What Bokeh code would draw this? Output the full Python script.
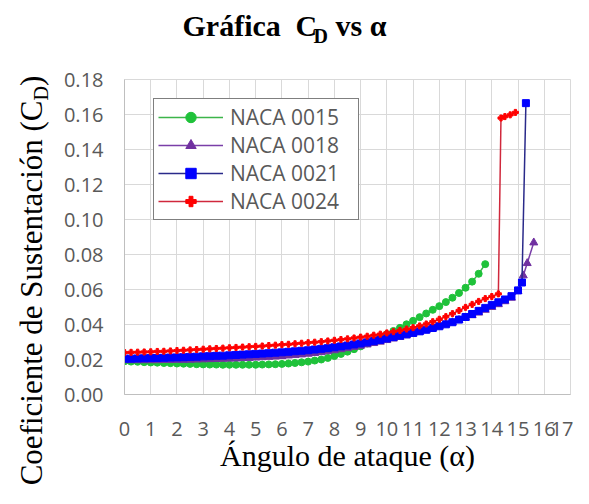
import math
from bokeh.plotting import figure
from bokeh.layouts import row, column
from bokeh.models import Plot, Range1d, FixedTicker, NumeralTickFormatter, Label, Legend, LegendItem
from bokeh.embed import file_html
from bokeh.resources import INLINE

# ---------------- data ----------------
x_ticks = list(range(0, 18))
y_ticks = [0.00, 0.02, 0.04, 0.06, 0.08, 0.10, 0.12, 0.14, 0.16, 0.18]

alpha_0015 = [0, 0.25, 0.5, 0.75, 1, 1.25, 1.5, 1.75, 2, 2.25, 2.5, 2.75, 3, 3.25, 3.5, 3.75,
              4, 4.25, 4.5, 4.75, 5, 5.25, 5.5, 5.75, 6, 6.25, 6.5, 6.75, 7, 7.25, 7.5, 7.75,
              8, 8.25, 8.5, 8.75, 9, 9.25, 9.5, 9.75, 10, 10.25, 10.5, 10.75, 11, 11.25, 11.5, 11.75,
              12, 12.25, 12.5, 12.75, 13, 13.25, 13.5, 13.75]
cd_0015 = [.0190, .0188, .0187, .0185, .0183, .0182, .0180, .0179, .0177, .0176, .0175, .0173,
           .0172, .0171, .0171, .0170, .0170, .0170, .0170, .0170, .0170, .0171, .0172, .0173,
           .0175, .0177, .0180, .0184, .0188, .0194, .0200, .0209, .0220, .0232, .0245, .0259,
           .0275, .0292, .0310, .0327, .0345, .0363, .0381, .0401, .0421, .0442, .0463, .0484,
           .0505, .0528, .0553, .0580, .0610, .0645, .0690, .0745]

alpha_0018 = alpha_0015 + [14.0, 14.25, 14.5, 14.75, 15.0, 15.2, 15.35, 15.6]
cd_0018 = [.0195, .0195, .0195, .0195, .0195, .0195, .0196, .0196, .0197, .0197, .0198, .0199,
           .0200, .0201, .0202, .0203, .0204, .0205, .0207, .0208, .0210, .0212, .0214, .0216,
           .0219, .0222, .0225, .0228, .0232, .0236, .0241, .0246, .0252, .0258, .0264, .0271,
           .0278, .0285, .0293, .0301, .0310, .0319, .0328, .0337, .0347, .0357, .0367, .0378,
           .0389, .0400, .0412, .0425, .0438, .0452, .0467, .0483,
           .0499, .0515, .0532, .0552, .0590, .0680, .0750, .0868]

alpha_0021 = alpha_0015 + [14.0, 14.25, 14.5, 14.75, 15.0, 15.15, 15.3]
cd_0021 = [.0205, .0205, .0206, .0207, .0208, .0209, .0210, .0211, .0212, .0213, .0215, .0216,
           .0218, .0219, .0221, .0222, .0224, .0226, .0228, .0230, .0232, .0234, .0236, .0239,
           .0241, .0244, .0247, .0250, .0253, .0257, .0261, .0265, .0270, .0275, .0280, .0286,
           .0292, .0298, .0305, .0312, .0320, .0328, .0336, .0344, .0352, .0361, .0370, .0380,
           .0390, .0401, .0413, .0428, .0443, .0460, .0478, .0495,
           .0512, .0527, .0543, .0562, .0595, .0640, .1665]

alpha_0024 = alpha_0015 + [14.0, 14.25, 14.35, 14.5, 14.7, 14.9]
cd_0024 = [.0240, .0241, .0242, .0243, .0244, .0246, .0247, .0249, .0251, .0253, .0255, .0257,
           .0259, .0261, .0263, .0265, .0267, .0269, .0271, .0273, .0275, .0277, .0280, .0282,
           .0285, .0287, .0290, .0293, .0296, .0299, .0302, .0306, .0310, .0314, .0318, .0323,
           .0328, .0333, .0339, .0345, .0352, .0359, .0366, .0374, .0382, .0392, .0403, .0416,
           .0430, .0445, .0462, .0480, .0498, .0515, .0532, .0548,
           .0560, .0575, .1580, .1588, .1598, .1612]

series = [
    ("NACA 0015", alpha_0015, cd_0015, "#3cb54a", "#1fc23a", "circle", 7),
    ("NACA 0018", alpha_0018, cd_0018, "#7a3fa8", "#7030a0", "triangle", 8),
    ("NACA 0021", alpha_0021, cd_0021, "#2a2a8a", "#0000ff", "square", 7),
    ("NACA 0024", alpha_0024, cd_0024, "#d0283c", "#ff0000", "plus", 6),
]

serif = "Liberation Serif"
extra = {}
if "frame_align" in Plot.properties():
    extra["frame_align"] = False


def blank(w, h):
    f = figure(width=w, height=h, output_backend="svg", toolbar_location=None, title=None,
               x_range=Range1d(0, w), y_range=Range1d(0, h),
               x_axis_location=None, y_axis_location=None,
               min_border=0, min_border_left=0, min_border_right=0,
               min_border_top=0, min_border_bottom=0,
               background_fill_color="white", border_fill_color="white", **extra)
    f.grid.visible = False
    f.outline_line_color = None
    return f


# ---------------- main figure ----------------
p = figure(width=513, height=428, output_backend="svg", toolbar_location=None, title=None,
           x_range=Range1d(0, 17), y_range=Range1d(0, 0.18),
           min_border_left=62, min_border_right=3, min_border_top=19, min_border_bottom=94,
           background_fill_color="white", border_fill_color="white", **extra)
p.outline_line_color = "#d9d9d9"

p.xaxis.ticker = FixedTicker(ticks=x_ticks)
p.yaxis.ticker = FixedTicker(ticks=y_ticks)
p.yaxis.formatter = NumeralTickFormatter(format="0.00")
for ax in (p.xaxis, p.yaxis):
    ax.major_tick_out = 0
    ax.major_tick_in = 0
    ax.minor_tick_out = 0
    ax.minor_tick_in = 0
    ax.axis_line_color = "#bfbfbf"
    ax.major_label_text_font = "Open Sans"
    ax.major_label_text_font_size = "20px"
    ax.major_label_text_color = "#595959"
p.xaxis.major_label_standoff = 27
p.yaxis.major_label_standoff = 21
p.xaxis.axis_label = "Ángulo de ataque (α)"
p.xaxis.axis_label_text_font = serif
p.xaxis.axis_label_text_font_size = "30px"
p.xaxis.axis_label_text_font_style = "normal"
p.xaxis.axis_label_text_color = "black"
p.xaxis.axis_label_standoff = 0
p.xgrid.grid_line_color = "#d9d9d9"
p.ygrid.grid_line_color = "#d9d9d9"

items = []
for name, xs, ys, lc, mc, mk, sz in series:
    rl = p.line(xs, ys, line_color=lc, line_width=1.5)
    rm = p.scatter(xs, ys, marker=mk, size=sz, fill_color=mc, line_color=mc)
    items.append(LegendItem(label=name, renderers=[rl, rm]))

legend = Legend(items=items, location=(29, 174), border_line_color="black", border_line_width=1.5,
                padding=4, spacing=0, margin=0, glyph_width=65, glyph_height=26, label_height=26,
                label_standoff=7, label_width=124, label_text_font="Open Sans",
                label_text_font_size="21px", label_text_color="#595959",
                background_fill_color="white", background_fill_alpha=1)
p.add_layout(legend)

# ---------------- title strip ----------------
t = blank(513, 60)
t.add_layout(Label(x=122, y=35, text="Gráfica", text_align="left", text_baseline="alphabetic",
                   text_font=serif, text_font_size="30px", text_font_style="bold", text_color="black"))
t.add_layout(Label(x=235, y=35, text="C", text_align="left", text_baseline="alphabetic",
                   text_font=serif, text_font_size="30px", text_font_style="bold", text_color="black"))
t.add_layout(Label(x=253, y=25, text="D", text_align="left", text_baseline="alphabetic",
                   text_font=serif, text_font_size="20px", text_font_style="bold", text_color="black"))
t.add_layout(Label(x=275, y=35, text="vs α", text_align="left", text_baseline="alphabetic",
                   text_font=serif, text_font_size="30px", text_font_style="bold", text_color="black"))

# ---------------- y-axis title strip ----------------
yl = blank(60, 488)
yl.add_layout(Label(x=31, y=388, text="Coeficiente de Sustentación (C", angle=math.pi / 2,
                    text_align="right", text_baseline="alphabetic", text_font=serif,
                    text_font_size="31px", text_color="black"))
yl.add_layout(Label(x=40, y=388, text="D", angle=math.pi / 2, text_align="left",
                    text_baseline="alphabetic", text_font=serif, text_font_size="20px",
                    text_color="black"))
yl.add_layout(Label(x=31, y=402.5, text=")", angle=math.pi / 2, text_align="left",
                    text_baseline="alphabetic", text_font=serif, text_font_size="31px",
                    text_color="black"))

layout = row(yl, column(t, p, spacing=0), spacing=0)

open("out.html", "w").write(file_html(layout, INLINE))
